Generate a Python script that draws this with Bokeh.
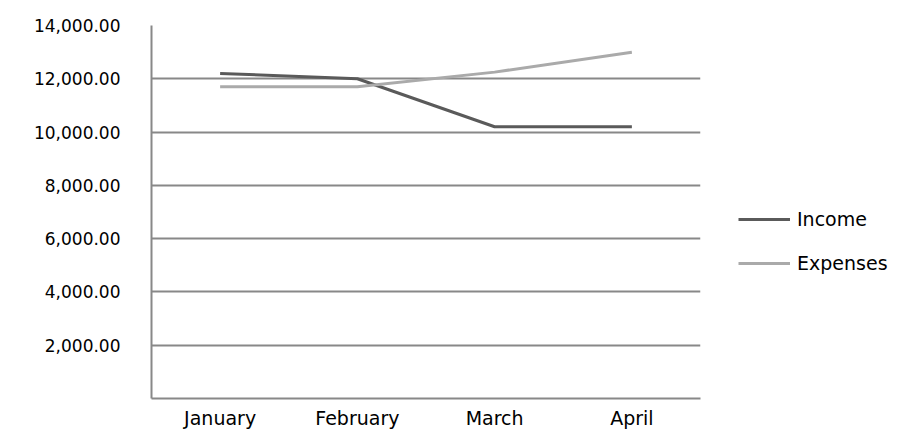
from bokeh.plotting import figure
from bokeh.models import FactorRange, Range1d, Legend, LegendItem, NumeralTickFormatter, FixedTicker
from bokeh.embed import file_html
from bokeh.resources import INLINE

months = ["January", "February", "March", "April"]
income = [12200, 12000, 10200, 10200]
expenses = [11700, 11700, 12250, 13000]
y_ticks = [2000, 4000, 6000, 8000, 10000, 12000, 14000]

p = figure(frame_width=549, frame_height=373, x_range=FactorRange(*months, range_padding=0),
           y_range=Range1d(0, 14000), output_backend="svg", toolbar_location=None,
           min_border_left=151, min_border_right=190, min_border_top=25, min_border_bottom=34)

r1 = p.line(x=months, y=income, line_color="#5a5a5a", line_width=3)
r2 = p.line(x=months, y=expenses, line_color="#aaaaaa", line_width=3)

p.yaxis.ticker = FixedTicker(ticks=y_ticks)
p.yaxis.formatter = NumeralTickFormatter(format="0,0.00")
for ax in (p.xaxis, p.yaxis):
    ax.axis_line_color = "#888888"
    ax.axis_line_width = 2
    ax.major_tick_line_color = None
    ax.minor_tick_line_color = None
    ax.major_tick_out = 0
    ax.major_tick_in = 0
    ax.minor_tick_out = 0
    ax.minor_tick_in = 0
    ax.major_label_text_font = "DejaVu Sans"
    ax.major_label_text_color = "#000000"
p.yaxis.major_label_text_font_size = "17px"
p.xaxis.major_label_text_font_size = "19px"
p.yaxis.major_label_standoff = 31
p.xaxis.major_label_standoff = 8

p.xgrid.grid_line_color = None
p.ygrid.ticker = FixedTicker(ticks=y_ticks)
p.ygrid.grid_line_color = "#888888"
p.ygrid.grid_line_width = 2
p.outline_line_color = None

legend = Legend(items=[LegendItem(label="Income", renderers=[r1]),
                       LegendItem(label="Expenses", renderers=[r2])],
                location=(38, 124), glyph_width=52, glyph_height=20, label_height=20,
                spacing=22, padding=0, margin=0, label_standoff=7,
                border_line_color=None, background_fill_alpha=0,
                label_text_font="DejaVu Sans", label_text_font_size="19px",
                label_text_color="#000000")
p.add_layout(legend, "right")

open("out.html", "w").write(file_html(p, INLINE))
